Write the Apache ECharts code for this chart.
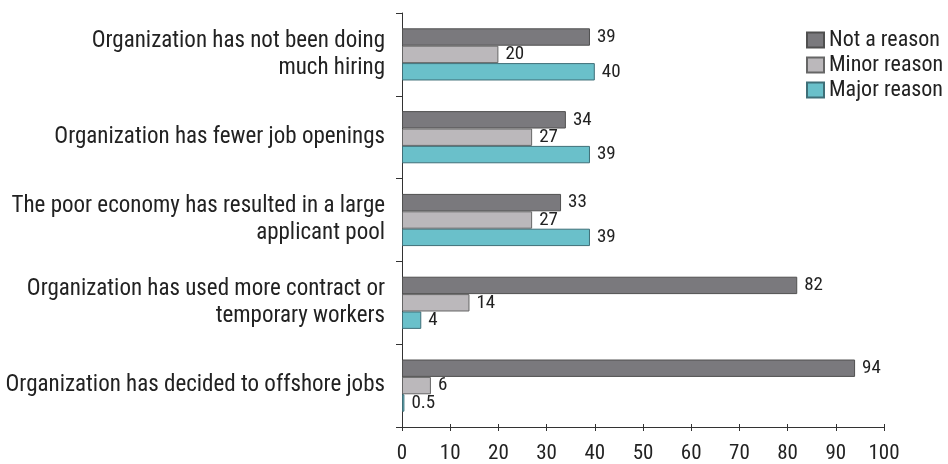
<!DOCTYPE html>
<html>
<head>
<meta charset="utf-8">
<script src="https://cdn.jsdelivr.net/npm/echarts@6/dist/echarts.min.js"></script>
<style>
  html, body { margin: 0; padding: 0; background: #fff; }
  #chart { width: 948px; height: 464px; }
</style>
</head>
<body>
<div id="chart"></div>
<script>
// Reasons for reduced hiring, percent of respondents
const categories = [
  'Organization has not been doing\nmuch hiring',
  'Organization has fewer job openings',
  'The poor economy has resulted in a large\napplicant pool',
  'Organization has used more contract or\ntemporary workers',
  'Organization has decided to offshore jobs'
];
const notAReason = [39, 34, 33, 82, 94];
const minorReason = [20, 27, 27, 14, 6];
const majorReason = [40, 39, 39, 4, 0.5];
const xTicks = [0, 10, 20, 30, 40, 50, 60, 70, 80, 90, 100];

const FONT = "'Roboto Condensed', 'Liberation Sans Narrow', 'DejaVu Sans Condensed', 'Roboto', sans-serif";
const TEXT = '#222';
const AXIS = '#333';

function barSeries(name, data, fill, stroke) {
  return {
    name: name,
    type: 'bar',
    data: data,
    barGap: '0%',
    barCategoryGap: '37%',
    itemStyle: { color: fill, borderColor: stroke, borderWidth: 1 },
    label: {
      show: true,
      position: 'right',
      distance: 7,
      color: TEXT,
      fontFamily: FONT,
      fontSize: 19
    },
    emphasis: { disabled: true }
  };
}

const chart = echarts.init(document.getElementById('chart'), null, { renderer: 'canvas' });
chart.setOption({
  animation: false,
  backgroundColor: '#fff',
  grid: { left: 402, right: 64, top: 13, bottom: 35, containLabel: false },
  legend: {
    orient: 'vertical',
    left: 801,
    top: 24,
    itemWidth: 17,
    itemHeight: 15,
    itemGap: 3,
    icon: 'rect',
    textStyle: { color: TEXT, fontFamily: FONT, fontSize: 22 },
    data: ['Not a reason', 'Minor reason', 'Major reason']
  },
  xAxis: [
    {
      type: 'value',
      min: xTicks[0],
      max: xTicks[xTicks.length - 1],
      interval: 10,
      axisLine: { show: true, lineStyle: { color: AXIS, width: 1 } },
      axisTick: { show: true, length: 4, lineStyle: { color: AXIS } },
      splitLine: { show: false },
      axisLabel: { color: TEXT, fontFamily: FONT, fontSize: 21, margin: 16 }
    },
    {
      // upper half of the crossing tick marks
      type: 'value',
      position: 'bottom',
      min: xTicks[0],
      max: xTicks[xTicks.length - 1],
      interval: 10,
      axisLine: { show: false },
      axisTick: { show: true, inside: true, length: 3, lineStyle: { color: AXIS } },
      splitLine: { show: false },
      axisLabel: { show: false }
    }
  ],
  yAxis: {
    type: 'category',
    inverse: true,
    data: categories,
    axisLine: { show: true, lineStyle: { color: AXIS, width: 1 } },
    axisTick: { show: true, length: 6, lineStyle: { color: AXIS } },
    axisLabel: {
      color: TEXT,
      fontFamily: FONT,
      fontSize: 23,
      lineHeight: 27,
      margin: 17,
      align: 'right'
    }
  },
  series: [
    barSeries('Not a reason', notAReason, '#7a797d', '#505050'),
    barSeries('Minor reason', minorReason, '#bbb8bb', '#666'),
    barSeries('Major reason', majorReason, '#6ac0ca', '#3f6f78')
  ]
});
</script>
</body>
</html>
